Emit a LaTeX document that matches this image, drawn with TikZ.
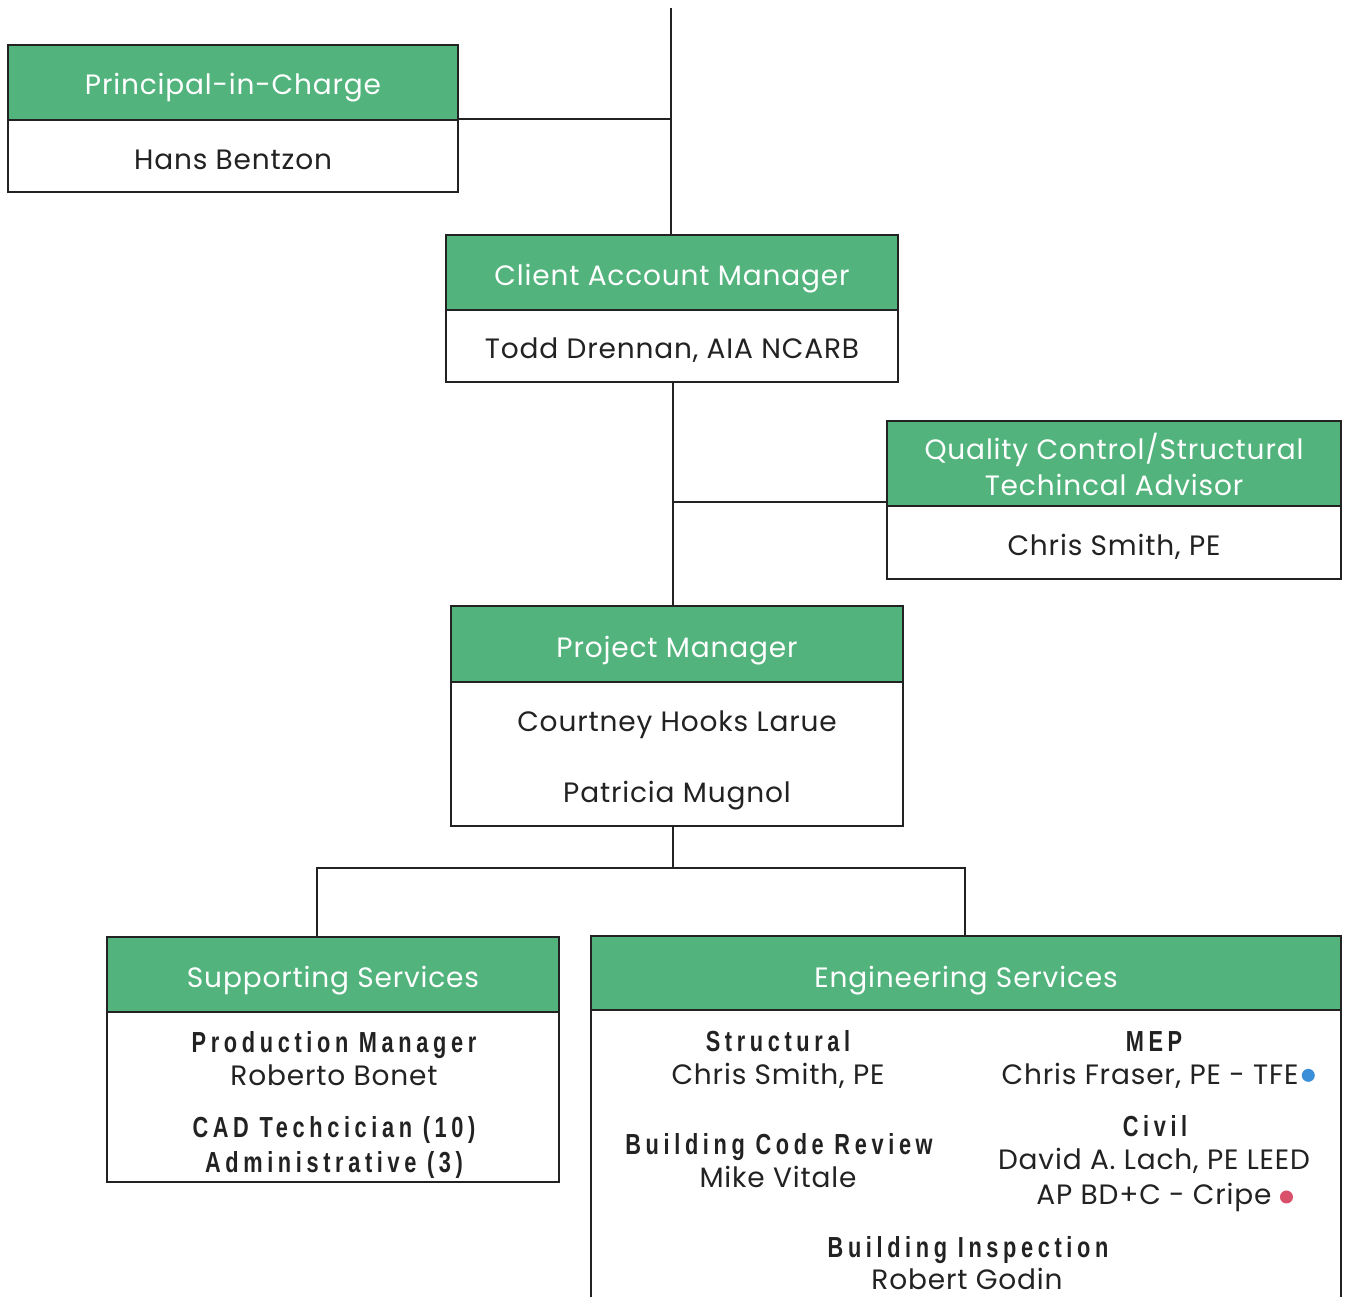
\documentclass[tikz,border=0pt]{standalone}
\usepackage{fontspec}
\setmainfont{Poppins}[LetterSpace=3]
\newfontfamily\labfont[FakeStretch=0.75,LetterSpace=16]{Liberation Sans}
\definecolor{hdr}{HTML}{52B47C}
\definecolor{ink}{HTML}{222222}
\definecolor{dotblue}{HTML}{3A8FD8}
\definecolor{dotred}{HTML}{D9506A}
\begin{document}
\begin{tikzpicture}[x=1pt,y=-1pt,
  hdrbox/.style={draw=ink,line width=2.4pt,fill=hdr,inner sep=0pt},
  bodybox/.style={draw=ink,line width=2.4pt,fill=white,inner sep=0pt},
  conn/.style={draw=ink,line width=1.5pt},
  htxt/.style={anchor=base,inner sep=0pt,text=white,font=\fontsize{28}{32}\selectfont},
  ntxt/.style={anchor=base,inner sep=0pt,text=ink,font=\fontsize{28}{32}\selectfont},
  btxt/.style={anchor=base,inner sep=0pt,text=ink,font=\labfont\bfseries\fontsize{29}{32}\selectfont},
  dotmark/.style={circle,inner sep=0pt,minimum size=13pt}]
\useasboundingbox (0,0) rectangle (1345,1297);
\fill[white] (0,0) rectangle (1345,1297);
% ---------- boxes ----------
\node[bodybox,minimum width=450pt,minimum height=72pt] (pib) at (233,156) {};
\node[hdrbox,minimum width=450pt,minimum height=75pt] (pih) at (233,82.5) {};
\node[bodybox,minimum width=452pt,minimum height=72pt] (camb) at (672,346) {};
\node[hdrbox,minimum width=452pt,minimum height=75pt] (camh) at (672,272.5) {};
\node[bodybox,minimum width=454pt,minimum height=73pt] (qcb) at (1114,542.5) {};
\node[hdrbox,minimum width=454pt,minimum height=85pt] (qch) at (1114,463.5) {};
\node[bodybox,minimum width=452pt,minimum height=144pt] (pmb) at (677,754) {};
\node[hdrbox,minimum width=452pt,minimum height=76pt] (pmh) at (677,644) {};
\node[bodybox,minimum width=452pt,minimum height=170pt] (ssb) at (333,1097) {};
\node[hdrbox,minimum width=452pt,minimum height=75pt] (ssh) at (333,974.5) {};
\node[bodybox,minimum width=750pt,minimum height=300pt] (esb) at (966,1160) {};
\node[hdrbox,minimum width=750pt,minimum height=74pt] (esh) at (966,973) {};
% ---------- connector points ----------
\coordinate (top) at (671,8);
\coordinate (bus) at (673,868);
\coordinate (ssj) at (317,936);
\coordinate (esj) at (965,935);
% ---------- connector lines ----------
\draw[conn] (top) -- (top |- camh.north);
\draw[conn] (pih.south east) ++(0,-2) coordinate (pij) -- (pij -| top);
\draw[conn] (camb.south -| bus) -- (pmh.north -| bus);
\draw[conn] (qch.south west) ++(0,-5) coordinate (qcj) -- (qcj -| bus);
\draw[conn] (pmb.south -| bus) -- (bus);
\draw[conn] (ssj) |- (bus) -| (esj);
% ---------- texts ----------
\node[htxt] (t1) at (233,95) {Principal-in-Charge};
\node[ntxt] (t2) at (233,170) {Hans Bentzon};
\node[htxt] (t3) at (672,286) {Client Account Manager};
\node[ntxt] (t4) at (672,359) {Todd Drennan, AIA NCARB};
\node[htxt] (t5) at (1114,460) {Quality Control/Structural};
\node[htxt] (t6) at (1114,495) {Techincal Advisor};
\node[ntxt] (t7) at (1114,555) {Chris Smith, PE};
\node[htxt] (t8) at (677,657) {Project Manager};
\node[ntxt] (t9) at (677,731) {Courtney Hooks Larue};
\node[ntxt] (t10) at (677,802) {Patricia Mugnol};
\node[htxt] (t11) at (333,987) {Supporting Services};
\node[htxt] (t12) at (966,987) {Engineering Services};
\node[btxt] (t13) at (334,1052) {Production Manager};
\node[ntxt] (t14) at (334,1085) {Roberto Bonet};
\node[btxt] (t15) at (334,1137) {CAD Techcician (10)};
\node[btxt] (t16) at (334,1172) {Administrative (3)};
\node[btxt] (t17) at (778,1051) {Structural};
\node[ntxt] (t18) at (778,1084) {Chris Smith, PE};
\node[btxt] (t19) at (1154,1051) {MEP};
\node[ntxt] (t20) at (1150,1084) {Chris Fraser, PE - TFE};
\node[dotmark,fill=dotblue,anchor=west,xshift=3pt] (d1) at (t20.east) {};
\node[btxt] (t21) at (779,1154) {Building Code Review};
\node[ntxt] (t22) at (778,1187) {Mike Vitale};
\node[btxt] (t23) at (1155,1136) {Civil};
\node[ntxt] (t24) at (1154,1169) {David A. Lach, PE LEED};
\node[ntxt] (t25) at (1154,1204) {AP BD+C - Cripe};
\node[dotmark,fill=dotred,anchor=west,xshift=8pt] (d2) at (t25.east) {};
\node[btxt] (t26) at (968,1257) {Building Inspection};
\node[ntxt] (t27) at (967,1289) {Robert Godin};
\end{tikzpicture}
\end{document}
